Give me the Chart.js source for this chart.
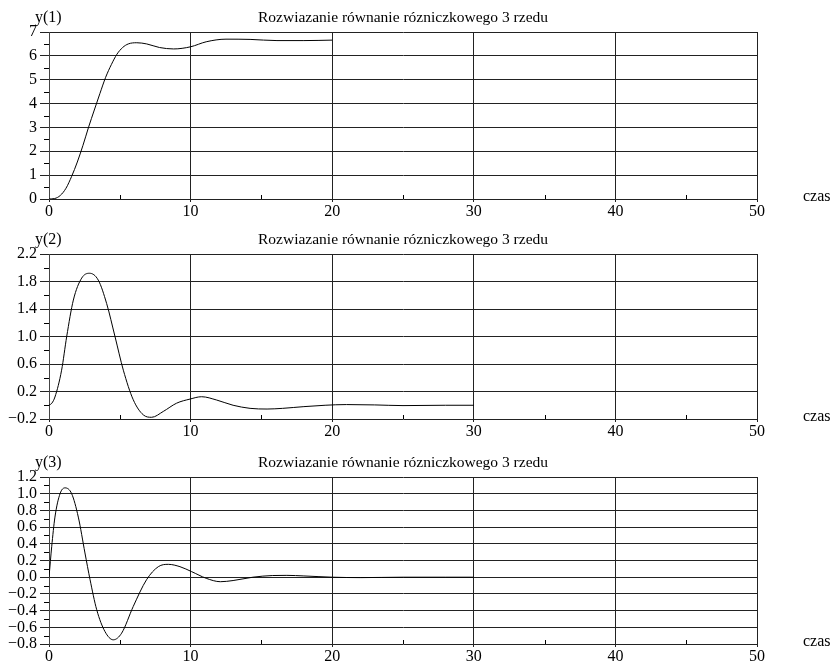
<!DOCTYPE html>
<html>
<head>
<meta charset="utf-8">
<script src="https://cdn.jsdelivr.net/npm/chart.js@4"></script>
<style>
  body { margin: 0; background: #fff; width: 832px; height: 661px; overflow: hidden; position: relative; }
  canvas { position: absolute; left: 0; }
</style>
</head>
<body>
<canvas id="c1" width="832" height="220" style="top:0px"></canvas>
<canvas id="c2" width="832" height="220" style="top:222px"></canvas>
<canvas id="c3" width="832" height="216" style="top:445px"></canvas>
<script>
// text
const titleText = "Rozwiazanie równanie rózniczkowego 3 rzedu";
const xLabel = "czas";

// x axis (time)
const xTicks = [0, 10, 20, 30, 40, 50];
const xMinor = [5, 15, 25, 35, 45];

// y(1)
const t1 = [0, 0.4, 0.8, 1.2, 1.6, 2.0, 2.4, 2.8, 3.2, 3.6, 4.0, 4.4, 4.8, 5.2, 5.6, 6.2, 6.9, 7.8, 8.8, 10.0, 11.1, 12.5, 14.2, 16.1, 18, 20];
const y1 = [0, 0.02, 0.15, 0.45, 0.95, 1.55, 2.25, 3.02, 3.73, 4.43, 5.1, 5.63, 6.07, 6.35, 6.5, 6.55, 6.5, 6.35, 6.29, 6.38, 6.59, 6.7, 6.69, 6.64, 6.64, 6.66];
const y1Ticks = [0, 1, 2, 3, 4, 5, 6, 7];
const y1Minor = [0.5, 1.5, 2.5, 3.5, 4.5, 5.5, 6.5];

// y(2)
const t2 = [0, 0.2, 0.42, 0.89, 1.25, 1.72, 2.31, 2.85, 3.48, 4.07, 4.66, 5.25, 5.95, 6.66, 7.25, 8.07, 9.01, 9.96, 10.78, 11.84, 13.0, 14.2, 15.4, 16.5, 18, 19.5, 21, 23, 25, 28, 30];
const y2 = [0, 0.03, 0.12, 0.51, 1.0, 1.53, 1.85, 1.92, 1.82, 1.48, 1.0, 0.51, 0.08, -0.14, -0.175, -0.09, 0.03, 0.09, 0.124, 0.076, 0.0, -0.045, -0.055, -0.045, -0.02, 0.0, 0.01, 0.005, -0.005, 0, 0];
const y2Ticks = [-0.2, 0.2, 0.6, 1.0, 1.4, 1.8, 2.2];
const y2Minor = [0.0, 0.4, 0.8, 1.2, 1.6, 2.0];

// y(3)
const t3 = [0, 0.19, 0.42, 0.78, 1.13, 1.6, 2.07, 2.54, 2.9, 3.37, 3.95, 4.54, 5.13, 5.95, 6.89, 7.72, 8.43, 9.25, 10.08, 11.1, 12.1, 13.0, 14.4, 15.8, 16.8, 18, 20, 22, 25, 28, 30];
const y3 = [0, 0.365, 0.72, 1.0, 1.07, 1.0, 0.72, 0.29, -0.03, -0.39, -0.65, -0.75, -0.67, -0.35, -0.03, 0.126, 0.154, 0.126, 0.066, -0.013, -0.054, -0.04, 0.0, 0.02, 0.022, 0.015, 0.0, -0.005, 0, 0, 0];
const y3Ticks = [-0.8, -0.6, -0.4, -0.2, 0.0, 0.2, 0.4, 0.6, 0.8, 1.0, 1.2];
const y3Minor = [-0.7, -0.5, -0.3, -0.1, 0.1, 0.3, 0.5, 0.7, 0.9, 1.1];

const FONT = "'Liberation Serif', 'DejaVu Serif', serif";

// title, axis names and minor ticks
const decorPlugin = {
    id: 'decor',
    afterDraw(chart, args, opts) {
        const ctx = chart.ctx;
        const a = chart.chartArea;
        const xs = chart.scales.x, ys = chart.scales.y;
        ctx.save();
        ctx.fillStyle = '#000';
        ctx.font = '15.5px ' + FONT;
        ctx.textBaseline = 'alphabetic';
        ctx.textAlign = 'center';
        ctx.fillText(titleText, (a.left + a.right) / 2, a.top - 10);
        ctx.font = '16px ' + FONT;
        ctx.textAlign = 'left';
        ctx.fillText(opts.yName, 35, a.top - 10);
        ctx.fillText(xLabel, 803, a.bottom + 2);

        // minor ticks
        ctx.strokeStyle = '#000';
        ctx.lineWidth = 1;
        ctx.beginPath();
        opts.yMinor.forEach(v => {
            const p = Math.round(ys.getPixelForValue(v)) + 0.5;
            ctx.moveTo(a.left - 5, p);
            ctx.lineTo(a.left, p);
        });
        xMinor.forEach(v => {
            const p = Math.round(xs.getPixelForValue(v)) + 0.5;
            ctx.moveTo(p, a.bottom);
            ctx.lineTo(p, a.bottom - 4);
        });
        ctx.stroke();
        ctx.restore();
    }
};

function fmt(v, dec) {
    return v.toFixed(dec).replace('-', '\u2212');
}

function MakeChart(id, t, y, yTicks, yMinor, dec, yName, xHeight) {
    const ctx = document.getElementById(id).getContext('2d');
    const pts = t.map((tv, i) => ({ x: tv, y: y[i] }));
    return new Chart(ctx, {
        type: 'line',
        data: {
            datasets: [{
                data: pts,
                borderColor: '#000',
                borderWidth: 1,
                pointRadius: 0,
                cubicInterpolationMode: 'monotone',
                fill: false
            }]
        },
        options: {
            responsive: false,
            animation: false,
            events: [],
            layout: { padding: { top: 32, right: 75, left: 0, bottom: 0 } },
            plugins: {
                legend: { display: false },
                tooltip: { enabled: false },
                decor: { yName: yName, yMinor: yMinor }
            },
            scales: {
                x: {
                    type: 'linear',
                    min: xTicks[0],
                    max: xTicks[xTicks.length - 1],
                    afterBuildTicks: s => { s.ticks = xTicks.map(v => ({ value: v })); },
                    afterFit: s => { s.height = xHeight; },
                    grid: { color: '#222', lineWidth: 1, tickLength: 3, tickColor: '#222' },
                    border: { display: false },
                    ticks: {
                        color: '#000',
                        font: { family: FONT, size: 16 },
                        padding: 0,
                        maxRotation: 0,
                        autoSkip: false,
                        callback: v => String(v)
                    }
                },
                y: {
                    min: yTicks[0],
                    max: yTicks[yTicks.length - 1],
                    afterBuildTicks: s => { s.ticks = yTicks.map(v => ({ value: v })); },
                    afterFit: s => { s.width = 49; },
                    grid: { color: '#222', lineWidth: 1, tickLength: 9, tickColor: '#222' },
                    border: { color: '#444', width: 1 },
                    ticks: {
                        color: '#000',
                        font: { family: FONT, size: 16 },
                        padding: 3,
                        autoSkip: false,
                        callback: v => fmt(v, dec)
                    }
                }
            }
        },
        plugins: [decorPlugin]
    });
}

MakeChart('c1', t1, y1, y1Ticks, y1Minor, 0, 'y(1)', 21);
MakeChart('c2', t2, y2, y2Ticks, y2Minor, 1, 'y(2)', 23);
MakeChart('c3', t3, y3, y3Ticks, y3Minor, 1, 'y(3)', 17);
</script>
</body>
</html>
